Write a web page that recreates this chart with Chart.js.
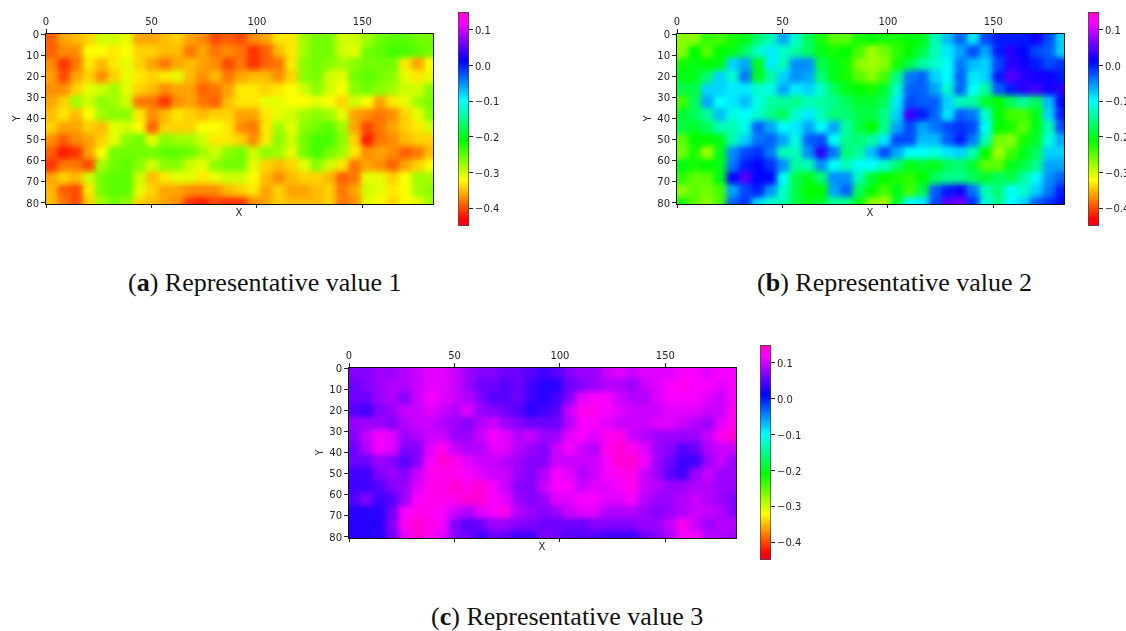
<!DOCTYPE html>
<html lang="en">
<head>
  <meta charset="UTF-8" />
  <title>Representative values</title>
  <script src="https://cdn.jsdelivr.net/npm/chart.js"></script>
  <style>
    html, body { margin: 0; padding: 0; background: #fff; overflow: hidden; }
    body { width: 1126px; height: 631px; position: relative; }
    canvas { position: absolute; }
    .caption {
      position: absolute;
      font-family: "Liberation Serif", serif;
      font-size: 26px;
      color: #111;
      white-space: nowrap;
    }
  </style>
</head>
<body>
  <canvas id="mapA" width="440" height="231" style="left:0;top:0"></canvas>
  <canvas id="barA" width="60" height="238" style="left:458px;top:7px"></canvas>
  <canvas id="mapB" width="440" height="231" style="left:631px;top:0"></canvas>
  <canvas id="barB" width="60" height="238" style="left:1088px;top:7px"></canvas>
  <canvas id="mapC" width="440" height="231" style="left:303px;top:334px"></canvas>
  <canvas id="barC" width="60" height="238" style="left:760px;top:340px"></canvas>
  <div class="caption" style="left:128px;top:268px">(<b>a</b>) Representative value 1</div>
  <div class="caption" style="left:757px;top:268px">(<b>b</b>) Representative value 2</div>
  <div class="caption" style="left:431px;top:602px">(<b>c</b>) Representative value 3</div>

  <script>
    // cell centres in axis units, one cell is 6x6
    const xCenters = [3,9,15,21,27,33,39,45,51,57,63,69,75,81,87,93,99,105,111,117,123,129,135,141,147,153,159,165,171,177,183];
    const yCenters = [3,9,15,21,27,33,39,45,51,57,63,69,75,81];

    const xTicks = [0,50,100,150];
    const yTicks = [0,10,20,30,40,50,60,70,80];
    const barTicks = [0.1,0,-0.1,-0.2,-0.3,-0.4];
    const barLabels = ['0.1','0.0','\u22120.1','\u22120.2','\u22120.3','\u22120.4'];

    // colormap, gist_rainbow on -0.45 .. 0.15
    const barMin = -0.45, barMax = 0.15;
    const cmapStops = [0,0.03,0.215,0.4,0.586,0.77,0.954,1];
    const cmapColors = [[255,0,41],[255,0,0],[255,255,0],[0,255,0],[0,255,255],[0,0,255],[255,0,255],[255,0,191]];

    // values x100, rows top to bottom
    const valuesA = [
      [-39,-36,-35,-34,-30,-30,-31,-36,-36,-35,-34,-36,-37,-40,-39,-40,-37,-36,-33,-33,-28,-26,-26,-30,-30,-28,-26,-25,-25,-26,-26],
      [-39,-37,-37,-32,-32,-33,-32,-34,-34,-35,-35,-38,-36,-38,-37,-38,-41,-39,-35,-33,-28,-26,-26,-30,-31,-26,-25,-24,-24,-25,-26],
      [-37,-41,-38,-33,-35,-33,-31,-34,-36,-38,-36,-35,-36,-37,-40,-38,-41,-39,-38,-33,-27,-26,-27,-28,-27,-26,-26,-26,-33,-36,-32],
      [-36,-40,-36,-34,-37,-34,-31,-33,-34,-33,-31,-35,-37,-35,-38,-36,-35,-35,-37,-34,-27,-26,-30,-31,-26,-25,-26,-27,-31,-33,-31],
      [-37,-37,-34,-31,-30,-28,-31,-34,-35,-37,-36,-36,-39,-38,-36,-33,-33,-34,-33,-32,-30,-27,-30,-32,-27,-26,-27,-28,-30,-30,-27],
      [-36,-34,-28,-30,-27,-28,-30,-38,-38,-41,-37,-36,-38,-39,-35,-33,-33,-31,-31,-32,-32,-31,-32,-34,-30,-32,-36,-33,-31,-28,-26],
      [-35,-33,-35,-32,-28,-27,-27,-33,-37,-35,-33,-34,-35,-34,-34,-36,-36,-33,-31,-30,-28,-27,-28,-31,-36,-37,-38,-37,-34,-31,-27],
      [-34,-36,-36,-34,-35,-31,-30,-32,-39,-34,-34,-34,-32,-32,-33,-37,-38,-33,-28,-31,-27,-26,-25,-28,-36,-40,-38,-36,-34,-33,-30],
      [-37,-39,-37,-36,-34,-31,-27,-26,-31,-27,-28,-28,-30,-33,-33,-34,-37,-33,-27,-30,-26,-24,-24,-27,-34,-42,-38,-37,-35,-34,-34],
      [-39,-42,-41,-36,-32,-26,-26,-26,-26,-25,-25,-26,-28,-30,-27,-26,-30,-27,-28,-31,-26,-24,-26,-28,-33,-37,-36,-37,-39,-38,-35],
      [-41,-38,-38,-40,-28,-26,-25,-27,-30,-27,-27,-30,-31,-27,-26,-26,-31,-34,-35,-34,-31,-27,-30,-33,-38,-36,-37,-39,-36,-34,-32],
      [-36,-34,-35,-30,-26,-25,-25,-30,-35,-33,-31,-31,-33,-31,-30,-30,-32,-35,-37,-35,-34,-34,-35,-39,-38,-31,-31,-34,-32,-28,-28],
      [-35,-39,-40,-33,-26,-25,-25,-31,-34,-36,-36,-37,-37,-37,-35,-34,-33,-36,-34,-36,-36,-35,-34,-38,-36,-30,-31,-33,-32,-28,-27],
      [-35,-38,-40,-34,-28,-26,-27,-34,-35,-36,-37,-41,-42,-40,-41,-41,-37,-36,-34,-35,-35,-35,-34,-38,-37,-31,-32,-34,-32,-31,-28]
    ];
    const valuesB = [
      [-27,-27,-23,-24,-22,-20,-16,-13,-6,-12,-17,-22,-25,-25,-22,-21,-22,-22,-21,-20,-13,-7,-3,-9,-2,0,0,0,2,-2,-8],
      [-27,-21,-25,-21,-20,-17,-12,-9,-12,-14,-17,-20,-22,-21,-24,-28,-26,-23,-21,-18,-13,-9,-6,-2,-6,0,3,1,-2,-3,-8],
      [-22,-20,-21,-20,-8,-6,-20,-9,-13,-5,-5,-18,-20,-22,-27,-28,-27,-22,-18,-14,-12,-10,-4,-7,-8,-2,3,2,0,-2,-1],
      [-20,-20,-16,-8,-12,-4,-20,-14,-8,-5,-6,-16,-20,-22,-25,-27,-24,-15,-4,-3,-8,-10,-3,-9,-8,0,5,3,2,2,0],
      [-18,-18,-8,-8,-9,-9,-12,-11,-6,-9,-8,-12,-17,-20,-21,-22,-19,-12,-3,-3,-6,-12,-3,-10,-14,-3,0,3,4,2,3],
      [-24,-17,-6,-10,-9,-7,-11,-14,-14,-15,-13,-14,-15,-17,-19,-19,-17,-9,-2,-3,-3,-8,-13,-14,-19,-21,-17,-14,-17,-7,1],
      [-19,-17,-14,-7,-11,-10,-12,-15,-17,-12,-9,-13,-16,-16,-18,-18,-15,-8,4,0,-3,-9,-3,-4,-12,-21,-24,-24,-20,-8,0],
      [-18,-19,-17,-13,-13,-11,-3,-6,-10,-9,-6,-10,-6,-14,-18,-21,-15,-6,-2,-6,-4,-2,-1,-2,-10,-21,-22,-25,-20,-13,-2],
      [-25,-21,-21,-20,-13,-8,-4,-3,-6,-11,-3,-2,-10,-15,-16,-14,-9,-2,-2,-7,-7,-3,0,-4,-13,-26,-27,-22,-19,-11,-6],
      [-26,-22,-28,-20,-5,-2,-1,-4,-13,-13,-5,3,-4,-16,-14,-7,-2,-6,-10,-10,-11,-9,-8,-13,-21,-28,-24,-20,-17,-8,-8],
      [-20,-22,-21,-20,-4,0,1,-1,-5,-14,-13,-5,-10,-13,-10,-10,-12,-16,-20,-19,-20,-17,-16,-19,-25,-25,-20,-18,-15,-6,-6],
      [-23,-25,-25,-20,1,5,1,1,-10,-18,-20,-16,-5,-5,-13,-19,-21,-22,-23,-21,-17,-15,-15,-17,-19,-17,-18,-14,-10,-5,-3],
      [-27,-25,-26,-24,-6,-2,0,-5,-12,-18,-21,-21,-6,-3,-17,-21,-24,-20,-24,-18,-3,0,2,-4,-13,-16,-10,-12,-8,-4,0],
      [-22,-25,-27,-24,-3,-1,-8,-12,-13,-18,-20,-19,-14,-15,-20,-27,-28,-19,-10,-9,-2,5,6,-1,-12,-15,-10,-8,-3,-1,1]
    ];
    const valuesC = [
      [7,7,8,8,9,10,11,11,10,8,7,7,6,6,5,4,5,7,8,8,10,11,10,11,11,11,12,12,11,12,12],
      [6,7,8,9,9,10,11,11,10,8,6,6,5,6,4,3,3,6,7,8,9,9,8,10,11,12,13,12,12,11,12],
      [6,6,8,9,7,10,12,11,10,9,7,5,5,6,4,3,4,7,11,12,12,10,9,9,11,12,12,12,11,10,12],
      [5,4,7,8,10,10,11,10,9,11,8,7,6,5,3,4,5,10,13,13,12,11,10,10,10,11,11,11,10,10,13],
      [8,8,8,7,9,10,10,9,8,7,9,10,8,7,6,6,6,9,12,12,11,10,10,10,11,11,10,9,8,11,13],
      [7,10,12,11,8,9,10,10,8,8,10,12,11,9,10,8,8,11,12,11,13,13,10,9,8,8,8,8,10,13,14],
      [6,9,12,11,7,7,11,13,10,9,9,11,11,9,8,7,10,12,10,9,13,14,13,11,8,7,5,6,9,10,10],
      [6,6,8,7,5,7,12,14,13,11,10,10,9,8,7,7,10,10,10,10,12,14,14,12,8,6,4,4,8,10,8],
      [4,4,7,8,7,10,13,13,13,12,11,10,10,8,7,9,12,11,9,10,12,13,13,10,8,5,4,8,10,8,8],
      [4,4,5,7,8,11,13,13,14,13,14,12,10,7,7,10,12,12,10,11,11,12,13,10,9,8,8,9,9,8,8],
      [5,7,4,5,8,12,13,13,13,14,14,12,11,8,7,8,11,11,12,12,11,11,12,9,8,8,9,10,9,8,7],
      [3,3,3,6,12,13,13,12,10,9,11,12,13,9,8,7,8,10,11,11,9,9,9,8,7,8,9,10,10,9,7],
      [3,3,3,7,13,14,13,12,7,5,6,8,8,7,7,6,6,6,6,7,7,7,7,8,8,10,13,10,8,9,9],
      [3,3,3,6,11,14,13,11,7,6,4,6,5,4,4,7,6,5,5,5,4,4,4,6,7,9,12,12,9,9,8]
    ];

    const tickFont = { family: '"DejaVu Sans", sans-serif', size: 10 };
    const inkColor = '#262626';

    function colorFor(v) {
      const t = Math.min(1, Math.max(0, (v - barMin) / (barMax - barMin)));
      let i = 0;
      while (i < cmapStops.length - 2 && t > cmapStops[i + 1]) i++;
      const f = (t - cmapStops[i]) / (cmapStops[i + 1] - cmapStops[i]);
      const a = cmapColors[i], b = cmapColors[i + 1];
      return 'rgb(' + a.map((c, k) => Math.round(c + (b[k] - c) * f)).join(',') + ')';
    }

    function fixedTicks(list) {
      return scale => { scale.ticks = list.map(v => ({ value: v })); };
    }

    // soften the cell edges, the reference is a resampled image
    const softCells = {
      id: 'softCells',
      beforeDatasetDraw(chart, args) {
        if (args.index === 0) chart.ctx.filter = 'blur(3px)';
      },
      afterDatasetDraw(chart) {
        chart.ctx.filter = 'none';
      }
    };

    function cellDataset(cells, extra) {
      return {
        data: cells,
        clip: 0,
        pointStyle: 'rect',
        pointBorderWidth: 0,
        pointBackgroundColor: ctx => colorFor(ctx.raw.v),
        pointRadius: ctx => {
          const x = ctx.chart.scales.x;
          return ((x.getPixelForValue(6) - x.getPixelForValue(0)) / 2 + extra) / Math.SQRT1_2;
        }
      };
    }

    function drawMap(id, values) {
      const cells = [];
      values.forEach((row, r) => row.forEach((v, c) => {
        cells.push({ x: xCenters[c], y: yCenters[r], v: v / 100 });
      }));

      const tickGrid = { display: true, drawOnChartArea: false, drawTicks: true, tickLength: 4, tickColor: inkColor };
      const frame = { display: true, color: '#111', width: 1, z: 1 };

      new Chart(document.getElementById(id), {
        type: 'scatter',
        data: { datasets: [cellDataset(cells, 1.5), cellDataset(cells, 0.3)] },
        plugins: [softCells],
        options: {
          responsive: false,
          animation: false,
          events: [],
          layout: { padding: 0 },
          plugins: { legend: { display: false }, tooltip: { enabled: false } },
          scales: {
            x: {
              type: 'linear', position: 'top', min: -0.5, max: 183.5,
              grid: tickGrid, border: frame,
              afterBuildTicks: fixedTicks(xTicks),
              afterFit: s => { s.height = 33; },
              ticks: { font: tickFont, color: inkColor, padding: 1, maxRotation: 0, autoSkip: false }
            },
            x2: {
              type: 'linear', axis: 'x', position: 'bottom', min: -0.5, max: 183.5,
              grid: tickGrid, border: frame,
              afterBuildTicks: fixedTicks(xTicks),
              afterFit: s => { s.height = 27; },
              ticks: { display: false },
              title: { display: true, text: 'X', font: tickFont, color: inkColor, padding: { top: 0, bottom: 12 } }
            },
            y: {
              type: 'linear', position: 'left', reverse: true, min: -0.5, max: 80.5,
              grid: tickGrid, border: frame,
              afterBuildTicks: fixedTicks(yTicks),
              afterFit: s => { s.width = 45; },
              ticks: { font: tickFont, color: inkColor, padding: 2, autoSkip: false, labelOffset: 1 },
              title: { display: true, text: 'Y', font: tickFont, color: inkColor, padding: { top: 11, bottom: 0 } }
            },
            y2: {
              type: 'linear', axis: 'y', position: 'right', reverse: true, min: -0.5, max: 80.5,
              grid: { display: false }, border: frame,
              afterFit: s => { s.width = 7; },
              ticks: { display: false }
            }
          }
        }
      });
    }

    function drawBar(id, bottomPad) {
      new Chart(document.getElementById(id), {
        type: 'bar',
        data: {
          labels: [''],
          datasets: [{
            data: [[barMin, barMax]],
            barPercentage: 1,
            categoryPercentage: 1,
            borderWidth: 1,
            borderColor: '#444',
            borderSkipped: false,
            backgroundColor: ctx => {
              const y = ctx.chart.scales.y;
              if (!y || !ctx.chart.chartArea) return '#fff';
              const g = ctx.chart.ctx.createLinearGradient(0, y.getPixelForValue(barMin), 0, y.getPixelForValue(barMax));
              cmapStops.forEach((s, i) => g.addColorStop(s, 'rgb(' + cmapColors[i].join(',') + ')'));
              return g;
            }
          }]
        },
        options: {
          responsive: false,
          animation: false,
          events: [],
          layout: { padding: { top: 5, bottom: bottomPad } },
          plugins: { legend: { display: false }, tooltip: { enabled: false } },
          scales: {
            x: { display: false },
            y: {
              position: 'right', min: barMin, max: barMax,
              grid: { display: true, drawOnChartArea: false, drawTicks: true, tickLength: 4, tickColor: inkColor },
              border: { display: false },
              afterBuildTicks: fixedTicks(barTicks),
              afterFit: s => { s.width = 49; s.paddingTop = 0; s.paddingBottom = 0; },
              ticks: {
                font: tickFont, color: inkColor, padding: 2, autoSkip: false, labelOffset: 1.5,
                callback: (value, index) => barLabels[index]
              }
            }
          }
        }
      });
    }

    drawMap('mapA', valuesA);
    drawMap('mapB', valuesB);
    drawMap('mapC', valuesC);
    drawBar('barA', 19);
    drawBar('barB', 19);
    drawBar('barC', 18);
  </script>
</body>
</html>
